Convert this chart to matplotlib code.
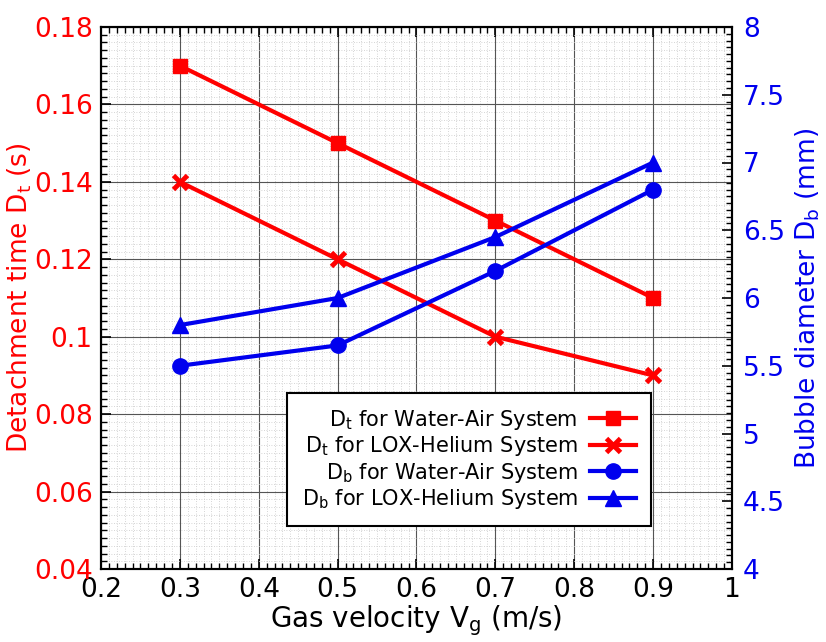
import matplotlib
matplotlib.use("Agg")
import matplotlib.pyplot as plt
from matplotlib.ticker import MultipleLocator, FuncFormatter

# Data
velocity = [0.3, 0.5, 0.7, 0.9]
dt_water_air = [0.17, 0.15, 0.13, 0.11]
dt_lox_helium = [0.14, 0.12, 0.10, 0.09]
db_water_air = [5.5, 5.65, 6.2, 6.8]
db_lox_helium = [5.8, 6.0, 6.45, 7.0]

labels = [r"D$_\mathregular{t}$ for Water-Air System",
          r"D$_\mathregular{t}$ for LOX-Helium System",
          r"D$_\mathregular{b}$ for Water-Air System",
          r"D$_\mathregular{b}$ for LOX-Helium System"]

RED = "#ff0000"
BLUE = "#0000ee"

plt.rcParams['font.family'] = ['DejaVu Sans']
fig = plt.figure(figsize=(8.26, 6.42), dpi=100)
ax = fig.add_axes([101/826, 1-569/642, 631/826, 542/642])
ax2 = ax.twinx()

ax.set_xlim(0.2, 1.0)
ax.set_ylim(0.04, 0.18)
ax2.set_ylim(4, 8)

ax.xaxis.set_major_locator(MultipleLocator(0.1))
ax.xaxis.set_minor_locator(MultipleLocator(0.01))
ax.yaxis.set_major_locator(MultipleLocator(0.02))
ax.yaxis.set_minor_locator(MultipleLocator(0.002))
ax2.yaxis.set_major_locator(MultipleLocator(0.5))
ax2.yaxis.set_minor_locator(MultipleLocator(0.05))

def fmt(v, pos):
    s = ("%.2f" % v).rstrip('0').rstrip('.')
    return s
ax.xaxis.set_major_formatter(FuncFormatter(fmt))
ax.yaxis.set_major_formatter(FuncFormatter(fmt))
ax2.yaxis.set_major_formatter(FuncFormatter(fmt))

ax.grid(which='major', color='#555555', linewidth=0.8, linestyle='-')
ax.grid(which='minor', color='#c8c8c8', linewidth=0.6, linestyle=(0, (1, 2)))
ax.set_axisbelow(True)

ax.tick_params(axis='both', which='both', direction='in', top=True, right=False)
ax.tick_params(axis='both', which='major', length=7, width=1.2)
ax.tick_params(axis='both', which='minor', length=4, width=1.0)
ax.tick_params(axis='x', labelsize=19, colors='black', pad=6)
ax.tick_params(axis='y', labelsize=19, labelcolor=RED, color='black', pad=6)
ax2.tick_params(axis='y', which='both', direction='in', labelsize=19, labelcolor=BLUE, color='black', pad=8)
ax2.tick_params(axis='y', which='major', length=7, width=1.2)
ax2.tick_params(axis='y', which='minor', length=4, width=1.0)

for sp in ax.spines.values():
    sp.set_linewidth(1.5)
for sp in ax2.spines.values():
    sp.set_linewidth(1.5)

l1, = ax.plot(velocity, dt_water_air, color=RED, lw=3, marker='s', markersize=10, label=labels[0])
l2, = ax.plot(velocity, dt_lox_helium, color=RED, lw=3, marker='x', markersize=10, markeredgewidth=3.5, label=labels[1])
l3, = ax2.plot(velocity, db_water_air, color=BLUE, lw=3, marker='o', markersize=11, label=labels[2])
l4, = ax2.plot(velocity, db_lox_helium, color=BLUE, lw=3, marker='^', markersize=12, label=labels[3])

ax.set_xlabel(r"Gas velocity V$_\mathregular{g}$ (m/s)", fontsize=20, labelpad=0)
ax.set_ylabel(r"Detachment time D$_\mathregular{t}$ (s)", fontsize=19, color=RED, labelpad=0)
ax2.set_ylabel(r"Bubble diameter D$_\mathregular{b}$ (mm)", fontsize=19, color=BLUE, labelpad=6)

leg = ax2.legend(handles=[l1, l2, l3, l4], loc='upper left',
                 bbox_to_anchor=(287/826, 1-393/642), bbox_transform=fig.transFigure,
                 borderaxespad=0,
                 markerfirst=False, fontsize=15, frameon=True, fancybox=False,
                 edgecolor='black', framealpha=1, handlelength=2.2,
                 borderpad=0.7, labelspacing=0.12, handletextpad=0.6)
leg.get_frame().set_linewidth(1.5)

fig.savefig("out.png", dpi=100)
